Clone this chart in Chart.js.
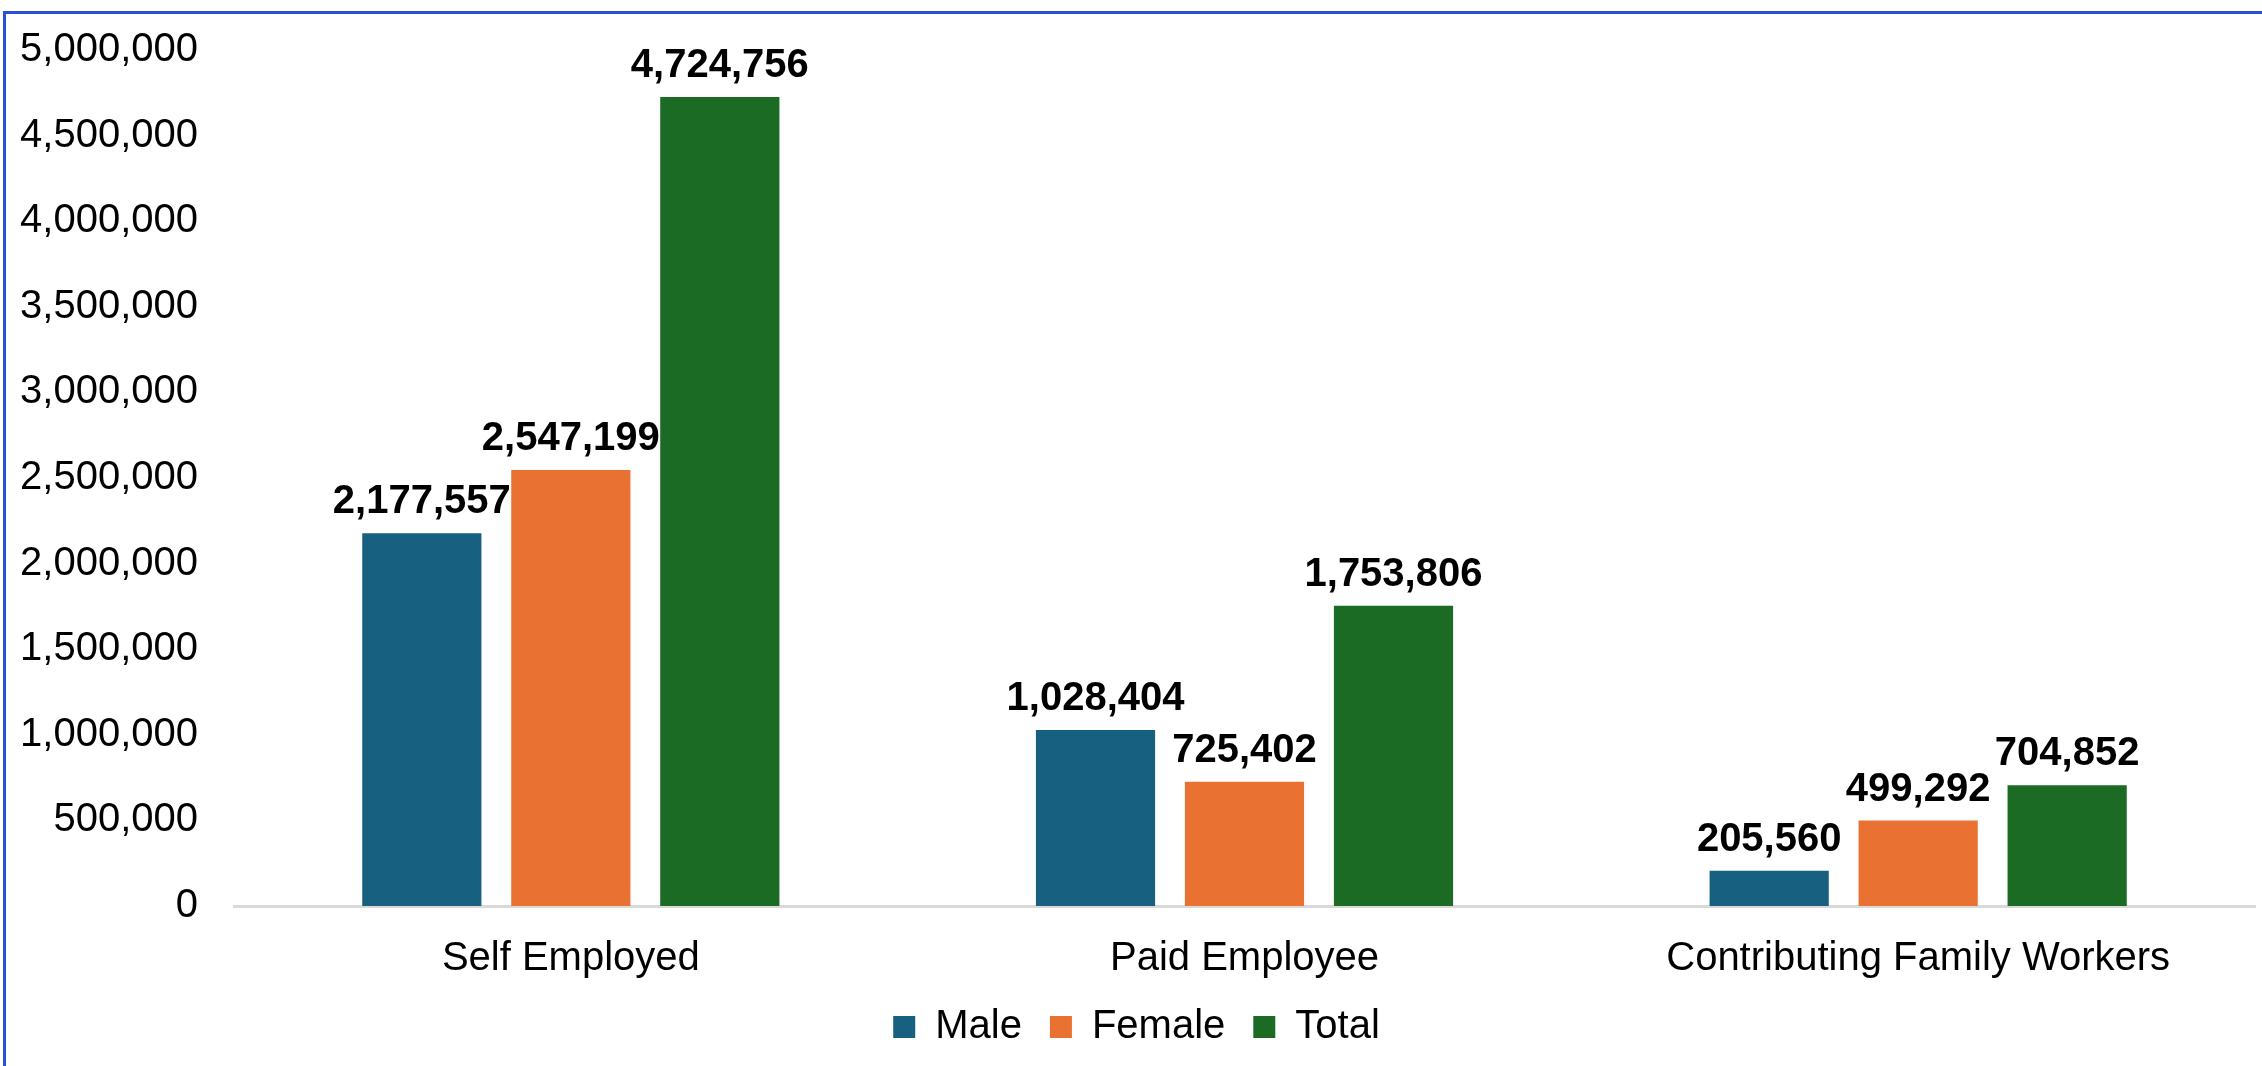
<!DOCTYPE html>
<html>
<head>
<meta charset="utf-8">
<script src="https://cdn.jsdelivr.net/npm/chart.js@4.4.1/dist/chart.umd.min.js"></script>
<style>
    body { margin: 0; background: #fff; overflow: hidden; }
    #wrap { position: relative; width: 2262px; height: 1066px; }
    #frame {
        position: absolute; left: 3px; top: 11px; width: 3000px; height: 2000px;
        border-top: 3px solid #2a4fd8; border-left: 3px solid #2a4fd8;
        pointer-events: none;
    }
</style>
</head>
<body>
<div id="wrap">
    <canvas id="bieudo" width="2262" height="1066"></canvas>
    <div id="frame"></div>
</div>
<script>
// du lieu
var categories = ['Self Employed', 'Paid Employee', 'Contributing Family Workers'];
var male = [2177557, 1028404, 205560];
var female = [2547199, 725402, 499292];
var total = [4724756, 1753806, 704852];
var yTicksMax = 5000000;
var yTicksStep = 500000;

function fmt(v){
    return Number(v).toLocaleString('en-US');
}

// ve so tren dau cot
var nhanCot = {
    id: 'nhanCot',
    afterDatasetsDraw: function(chart){
        var ctx = chart.ctx;
        ctx.save();
        ctx.font = 'bold 40px "Liberation Sans", Arial, sans-serif';
        ctx.fillStyle = '#000';
        ctx.textAlign = 'center';
        ctx.textBaseline = 'alphabetic';
        chart.data.datasets.forEach(function(ds, i){
            var meta = chart.getDatasetMeta(i);
            meta.data.forEach(function(bar, j){
                ctx.fillText(fmt(ds.data[j]), bar.x, bar.y - 20);
            });
        });
        ctx.restore();
    }
};

Chart.defaults.font.family = '"Liberation Sans", Arial, sans-serif';
Chart.defaults.font.size = 40;
Chart.defaults.color = '#000';

const ctx = document.getElementById('bieudo');
new Chart(ctx, {
    type: 'bar',
    data: {
        labels: categories,
        datasets: [
            {
                label: 'Male',
                data: male,
                backgroundColor: '#17607f',
                borderWidth: 0,
                categoryPercentage: 0.6635,
                barPercentage: 0.8
            },
            {
                label: 'Female',
                data: female,
                backgroundColor: '#e97132',
                borderWidth: 0,
                categoryPercentage: 0.6635,
                barPercentage: 0.8
            },
            {
                label: 'Total',
                data: total,
                backgroundColor: '#1b6b24',
                borderWidth: 0,
                categoryPercentage: 0.6635,
                barPercentage: 0.8
            }
        ]
    },
    options: {
        responsive: false,
        animation: false,
        layout: {
            padding: { top: 50, left: 18, right: 7, bottom: 9 }
        },
        plugins: {
            legend: {
                position: 'bottom',
                labels: {
                    boxWidth: 22,
                    boxHeight: 22,
                    padding: 28,
                    font: { size: 40 },
                    color: '#000'
                }
            },
            tooltip: { enabled: false }
        },
        scales: {
            x: {
                grid: { display: false, drawTicks: false },
                border: { display: true, color: '#d9d9d9', width: 3 },
                ticks: { padding: 29, font: { size: 40 }, color: '#000' },
                afterFit: function(scale){ scale.height = 73; }
            },
            y: {
                beginAtZero: true,
                min: 0,
                max: yTicksMax,
                grid: { display: false, drawTicks: true, tickLength: 36 },
                border: { display: false },
                ticks: {
                    stepSize: yTicksStep,
                    padding: 0,
                    font: { size: 40 },
                    color: '#000',
                    callback: function(v){ return fmt(v); }
                },
                afterFit: function(scale){ scale.width = 216; }
            }
        }
    },
    plugins: [nhanCot]
});
</script>
</body>
</html>
